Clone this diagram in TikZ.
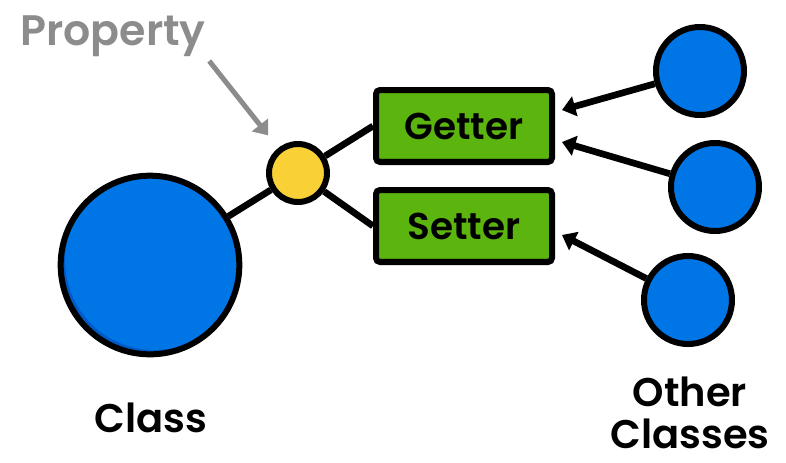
\documentclass[tikz,border=0pt]{standalone}
\usepackage{fontspec}
\setmainfont{Poppins}[BoldFont={* SemiBold}]
\usetikzlibrary{arrows.meta,calc}
\definecolor{classblue}{RGB}{0,118,230}
\definecolor{classbluedark}{RGB}{0,90,200}
\definecolor{propyellow}{RGB}{250,208,55}
\definecolor{propyellowdark}{RGB}{226,176,30}
\definecolor{boxgreen}{RGB}{92,180,14}
\definecolor{boxgreendark}{RGB}{70,148,10}
\definecolor{labelgray}{RGB}{140,140,140}
\tikzset{
  ball/.style 2 args={circle, draw=black, line width=4.5pt, minimum size=#1,
    inner sep=0pt, fill=#2dark,
    path picture={\fill[#2] ([shift={(0.025*#1,0.025*#1)}]path picture bounding box.center) circle[radius=#1/2];}},
  accessor/.style={rectangle, rounded corners=3pt, draw=black, line width=4.5pt,
    minimum width=132pt, minimum height=54pt, fill=boxgreendark,
    path picture={\fill[boxgreen] ([yshift=3pt]path picture bounding box.south west) rectangle (path picture bounding box.north east);},
    font=\bfseries\fontsize{28}{34}\selectfont},
  textlabel/.style={font=\bfseries\fontsize{30}{32}\selectfont, align=center, inner sep=0pt},
}
\begin{document}
\begin{tikzpicture}[x=0.75pt, y=-0.75pt,
    link/.style={line width=5pt, black},
    call/.style={line width=5pt, black, -{Triangle[length=10pt, width=15pt]}},
    pointer/.style={line width=3.75pt, labelgray, -{Triangle[length=10pt, width=15pt]}}]
  \useasboundingbox (0,0) rectangle (786,462);
  % class and its property
  \node[ball={134pt}{classblue}] (class) at (150,265) {};
  \node[ball={43.5pt}{propyellow}] (prop) at (298,173) {};
  \node[accessor] (getter) at (464,126) {Getter};
  \node[accessor] (setter) at (464,226) {Setter};
  % other classes
  \node[ball={66pt}{classblue}] (other1) at (700,71) {};
  \node[ball={66pt}{classblue}] (other2) at (715,187) {};
  \node[ball={66pt}{classblue}] (other3) at (688,300) {};
  % labels
  \node[textlabel, text=labelgray, font=\bfseries\fontsize{32}{34}\selectfont] (proplabel) at (113,36) {Property};
  \node[textlabel] (classlabel) at (151,418) {Class};
  \node[textlabel] (otherlabel) at (690,413) {Other\\Classes};
  % connectors
  \draw[link] (class) -- (prop);
  \draw[link] (prop) -- (getter.west);
  \draw[link] (prop) -- (setter.west);
  \draw[call] (other1) -- ($(getter.east)+(7,-16)$);
  \draw[call] (other2) -- ($(getter.east)+(7,16)$);
  \draw[call] (other3) -- ($(setter.east)+(7,9)$);
  \draw[pointer, shorten <=4pt, shorten >=12pt] (proplabel.south east) -- (prop);
\end{tikzpicture}
\end{document}
